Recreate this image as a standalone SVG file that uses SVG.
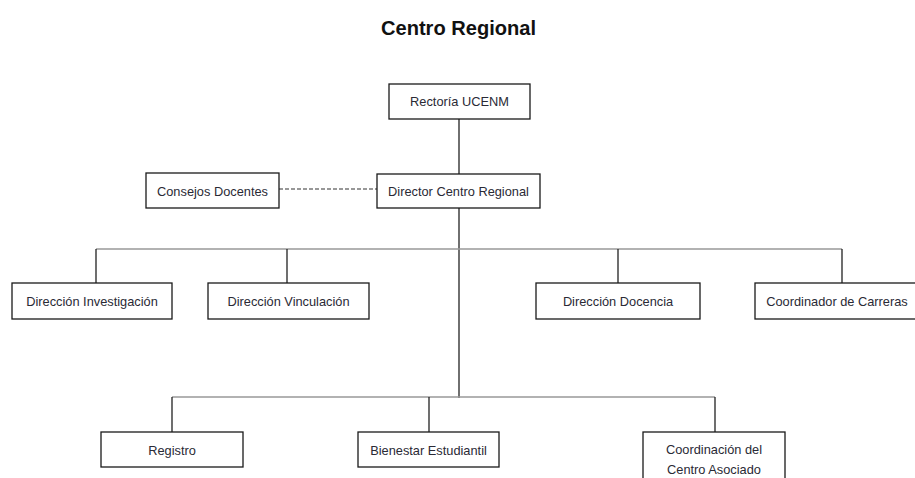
<svg xmlns="http://www.w3.org/2000/svg" width="915" height="478" viewBox="0 0 915 478">
<style>
.box{fill:#fff;stroke:#1a1a1a;stroke-width:1.3}
.t{font-family:"Liberation Sans",Arial,sans-serif;font-size:12.8px;fill:#2a2a35;text-anchor:middle}
.v{stroke:#222;stroke-width:1.3;fill:none}
.h{stroke:#999;stroke-width:1.6;fill:none}
.d{stroke:#333;stroke-width:1.2;stroke-dasharray:4 2;fill:none}
</style>
<rect width="915" height="478" fill="#fff"/>
<text x="458.5" y="35" font-family="Liberation Sans,Arial,sans-serif" font-weight="bold" font-size="20" fill="#111" text-anchor="middle" textLength="155" lengthAdjust="spacingAndGlyphs">Centro Regional</text>
<g id="connectors">
<path class="v" d="M459 119V174"/>
<path class="d" d="M279 189H377"/>
<path class="v" d="M459 208V398"/>
<path class="h" d="M96 249H842"/>
<path class="v" d="M96 249V283M287 249V283M618 249V283M842 249V283"/>
<path class="h" d="M172 397H715"/>
<path class="v" d="M172 397V432M429 397V432M715 397V432"/>
</g>
<g id="rectoria"><rect class="box" x="389" y="84" width="141" height="35"/><text class="t" x="459.5" y="106">Rectoría UCENM</text></g>
<g id="director"><rect class="box" x="377" y="174" width="163" height="34"/><text class="t" x="458.5" y="196">Director Centro Regional</text></g>
<g id="consejos"><rect class="box" x="146" y="173" width="133" height="35"/><text class="t" x="212.5" y="196">Consejos Docentes</text></g>
<g id="investigacion"><rect class="box" x="12" y="283" width="160" height="36"/><text class="t" x="92" y="306">Dirección Investigación</text></g>
<g id="vinculacion"><rect class="box" x="208" y="283" width="161" height="36"/><text class="t" x="288.5" y="306">Dirección Vinculación</text></g>
<g id="docencia"><rect class="box" x="536" y="283" width="164" height="36"/><text class="t" x="618" y="306">Dirección Docencia</text></g>
<g id="coordinador"><rect class="box" x="755" y="283" width="165" height="36"/><text class="t" x="837" y="306">Coordinador de Carreras</text></g>
<g id="registro"><rect class="box" x="101" y="432" width="142" height="35"/><text class="t" x="172" y="455">Registro</text></g>
<g id="bienestar"><rect class="box" x="358" y="432" width="141" height="35"/><text class="t" x="428.5" y="455">Bienestar Estudiantil</text></g>
<g id="coordinacion"><rect class="box" x="643" y="432" width="142" height="60"/><text class="t" x="714" y="454">Coordinación del</text><text class="t" x="714" y="474">Centro Asociado</text></g>
</svg>
